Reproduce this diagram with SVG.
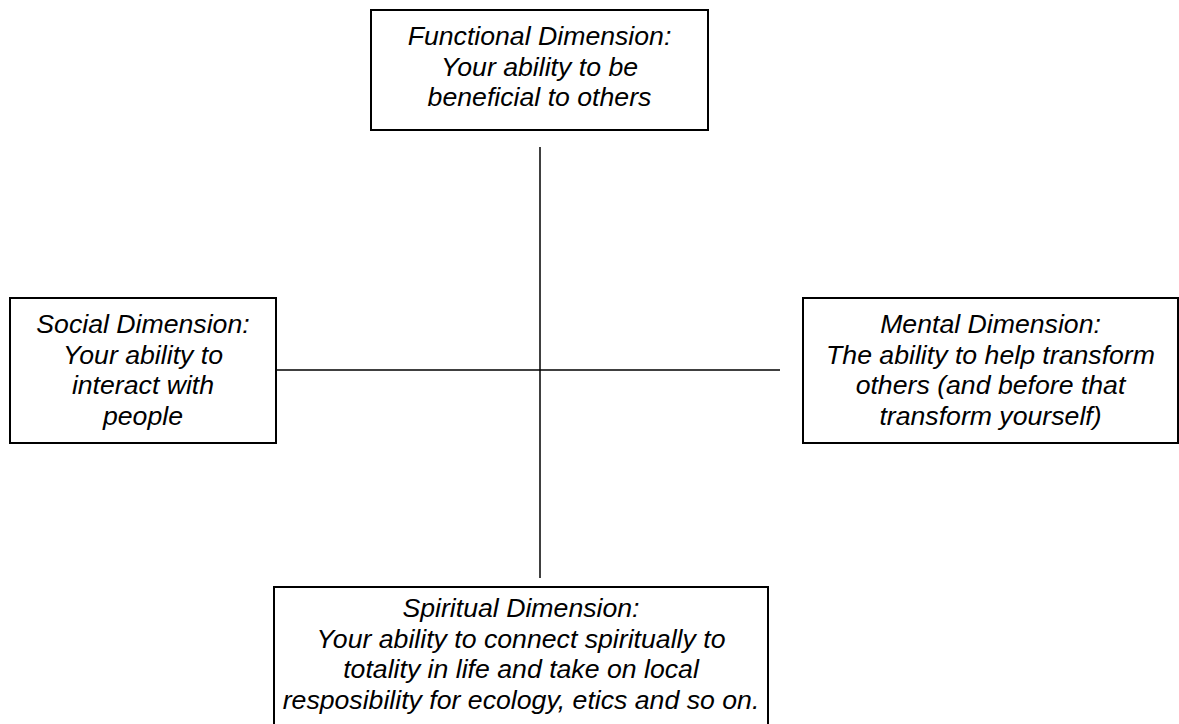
<svg xmlns="http://www.w3.org/2000/svg" width="1179" height="724" viewBox="0 0 1179 724">
<style>
.box{fill:#fff;stroke:#000;stroke-width:2}
.t{font-family:"Liberation Sans",Arial,sans-serif;font-style:italic;font-size:26.67px;fill:#000;text-anchor:middle}
.ln{stroke:#000;stroke-width:1.5;fill:none}
</style>
<rect width="1179" height="724" fill="#fff"/>
<g id="connectors">
<line class="ln" x1="540" y1="147" x2="540" y2="578"/>
<line class="ln" x1="272" y1="370" x2="780" y2="370"/>
</g>
<g id="functional">
<rect class="box" x="371" y="10" width="337" height="120"/>
<text class="t" x="539.5" y="45">Functional Dimension:</text>
<text class="t" x="539.5" y="75.7">Your ability to be</text>
<text class="t" x="539.5" y="106.3">beneficial to others</text>
</g>
<g id="social">
<rect class="box" x="10" y="298" width="266" height="145"/>
<text class="t" x="143" y="333">Social Dimension:</text>
<text class="t" x="143" y="363.7">Your ability to</text>
<text class="t" x="143" y="394.3">interact with</text>
<text class="t" x="143" y="425">people</text>
</g>
<g id="mental">
<rect class="box" x="803" y="298" width="375" height="145"/>
<text class="t" x="990.5" y="333">Mental Dimension:</text>
<text class="t" x="990.5" y="363.7">The ability to help transform</text>
<text class="t" x="990.5" y="394.3">others (and before that</text>
<text class="t" x="990.5" y="425">transform yourself)</text>
</g>
<g id="spiritual">
<rect class="box" x="274" y="587" width="494" height="150"/>
<text class="t" x="521" y="617">Spiritual Dimension:</text>
<text class="t" x="521" y="647.7">Your ability to connect spiritually to</text>
<text class="t" x="521" y="678.3">totality in life and take on local</text>
<text class="t" x="521" y="709">resposibility for ecology, etics and so on.</text>
</g>
</svg>
